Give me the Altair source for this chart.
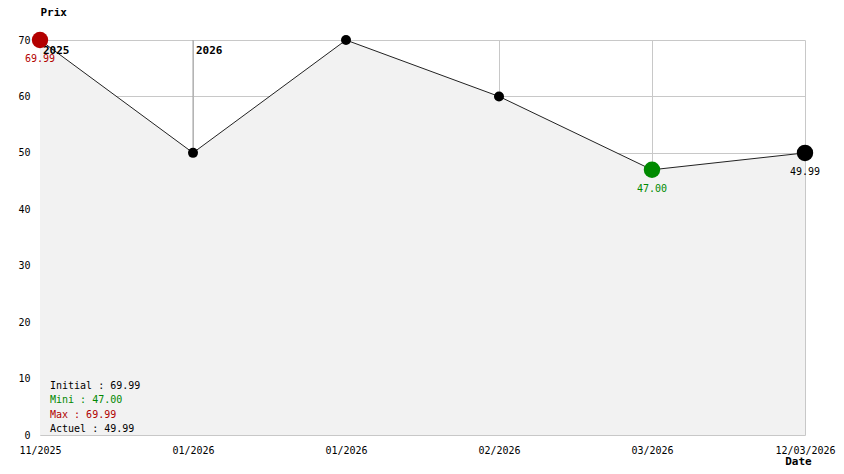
import altair as alt
import pandas as pd

# Data
x_labels = ["11/2025", "01/2026", "01/2026", "02/2026", "03/2026", "12/03/2026"]
prices = [69.99, 50.0, 69.99, 60.0, 47.0, 49.99]
years = ["2025", "2026"]
year_idx = [0, 1]
legend_lines = ["Initial : 69.99", "Mini : 47.00", "Max : 69.99", "Actuel : 49.99"]
legend_colors = ["#000000", "#008800", "#b00000", "#000000"]

RED = "#b30000"
GREEN = "#008a00"
FONT = "DejaVu Sans Mono"
FS = 10

n = len(prices)
df = pd.DataFrame({"i": list(range(n)), "price": prices, "lab": x_labels})

imin = prices.index(min(prices))
kind = []
for k in range(n):
    if k == 0:
        kind.append("first")
    elif k == n - 1:
        kind.append("last")
    elif k == imin:
        kind.append("min")
    else:
        kind.append("mid")
df["kind"] = kind

label_expr = "[" + ",".join("'%s'" % s for s in x_labels) + "][datum.value]"

xs = alt.Scale(domain=[0, n - 1], nice=False, zero=False)
ys = alt.Scale(domain=[0, 70], nice=False)

x_enc = alt.X("i:Q", scale=xs, axis=alt.Axis(
    values=list(range(n)), labelExpr=label_expr, grid=True, gridColor="#c8c8c8",
    domain=False, ticks=False, labelPadding=10, labelFont=FONT, labelFontSize=FS,
    labelColor="#000", title="Date", titleFont=FONT, titleFontSize=11,
    titleFontWeight="bold", titleX=758, titleY=26, titleAlign="center",
    titleBaseline="middle", labelFlush=False))
y_enc = alt.Y("price:Q", scale=ys, axis=alt.Axis(
    values=list(range(0, 71, 10)), grid=True, gridColor="#c8c8c8", domain=False,
    ticks=False, labelPadding=10, labelFont=FONT, labelFontSize=FS, labelColor="#000",
    title="Prix", titleAngle=0, titleX=0, titleY=-28, titleAlign="left",
    titleBaseline="middle", titleFont=FONT, titleFontSize=11, titleFontWeight="bold"))

base = alt.Chart(df)

area = base.mark_area(color="#f2f2f2", opacity=1).encode(x=x_enc, y=y_enc)
line = base.mark_line(color="#222222", strokeWidth=1).encode(x="i:Q", y="price:Q")

ydf = pd.DataFrame({"i": year_idx, "year": years, "top": [70, 70],
                    "p": [prices[k] for k in year_idx]})
sep = alt.Chart(ydf[ydf["i"] > 0]).mark_rule(color="#a0a0a0", strokeWidth=1).encode(
    x="i:Q", y="top:Q", y2="p:Q")
year_txt = alt.Chart(ydf).mark_text(align="left", baseline="middle", dx=3, dy=11,
                                    font=FONT, fontSize=11, fontWeight="bold",
                                    color="#000").encode(x="i:Q", y="top:Q", text="year:N")

small = base.transform_filter("datum.kind == 'mid'").mark_circle(
    size=100, opacity=1, color="#000").encode(x="i:Q", y="price:Q")
big = base.transform_filter("datum.kind != 'mid'").mark_circle(size=270, opacity=1).encode(
    x="i:Q", y="price:Q",
    color=alt.Color("kind:N", scale=alt.Scale(domain=["first", "min", "last"],
                                              range=[RED, GREEN, "#000000"]), legend=None))
vlab = base.transform_filter("datum.kind != 'mid'").transform_calculate(
    t="format(datum.price, '.2f')").mark_text(
    baseline="middle", dy=19, font=FONT, fontSize=FS).encode(
    x="i:Q", y="price:Q", text="t:N",
    color=alt.Color("kind:N", scale=alt.Scale(domain=["first", "min", "last"],
                                              range=["#b00000", GREEN, "#000000"]), legend=None))

ldf = pd.DataFrame({"t": legend_lines, "c": legend_colors, "k": list(range(len(legend_lines)))})
ldf["py"] = 346 + ldf["k"] * 14.3
leg = alt.Chart(ldf).mark_text(align="left", baseline="middle", font=FONT, fontSize=FS).encode(
    x=alt.value(10), y=alt.Y("py:Q", scale=None), text="t:N",
    color=alt.Color("c:N", scale=None))

chart = alt.layer(area, line, sep, year_txt, small, big, vlab, leg).properties(
    width=765, height=395, autosize=alt.AutoSizeParams(type="none"),
    padding={"left": 32, "top": 32, "right": 31, "bottom": 31}, background="white"
).configure_view(stroke=None)

chart.save("out.html", embed_options={"renderer": "svg", "actions": False})
